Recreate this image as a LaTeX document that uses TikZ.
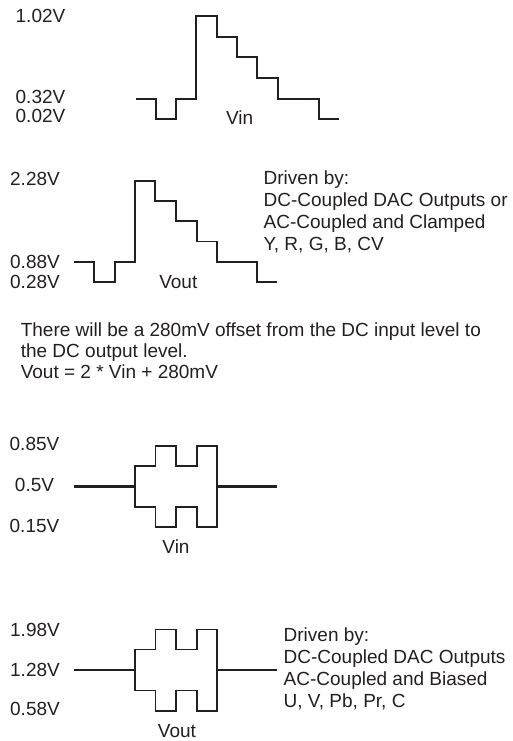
\documentclass[tikz,border=0pt]{standalone}
\usepackage{fontspec}
\setmainfont{Liberation Sans}
\usepackage{tikz}
\usetikzlibrary{positioning}
\definecolor{ink}{RGB}{35,31,32}
\tikzset{
    wave/.style={
        draw=ink,
        line width=1.8bp,
        line join=miter
    },
    dcline/.style={
        draw=ink,
        line width=2.8bp
    },
    lvl/.style={
        anchor=base,
        inner sep=0pt,
        text=ink,
        font=\fontsize{19bp}{22bp}\selectfont
    },
    note/.style={
        anchor=north west,
        align=left,
        inner sep=0pt,
        text=ink,
        font=\fontsize{19bp}{22bp}\selectfont
    }
}

\begin{document}
\begin{tikzpicture}[x=1bp, y=-1bp]
    \useasboundingbox (0,0) rectangle (513,741);

    % Vin staircase (DC coupled)
    \node[lvl] (vinhi)  at (40.5,22.7)  {1.02V};
    \node[lvl] (vinmid) at (40.5,103.5) {0.32V};
    \node[lvl] (vinlo)  at (40.5,122)   {0.02V};
    \draw[wave] (136,98.7) -- (155.7,98.7) -- (155.7,118.7) -- (176,118.7)
        -- (176,98.7) -- (196,98.7) -- (196,16) -- (217.3,16)
        -- (217.3,36.7) -- (237.3,36.7) -- (237.3,57.3) -- (257.3,57.3)
        -- (257.3,78) -- (278.3,78) -- (278.3,98.7) -- (319,98.7)
        -- (319,118.7) -- (339,118.7);
    \node[lvl] (vinname) at (239.7,124) {Vin};

    % Vout staircase (DC coupled)
    \node[lvl] (vouthi)  at (35,185)   {2.28V};
    \node[lvl] (voutmid) at (35,268.5) {0.88V};
    \node[lvl] (voutlo)  at (35,288.5) {0.28V};
    \draw[wave] (74.3,261.7) -- (94.3,261.7) -- (94.3,282.3) -- (115,282.3)
        -- (115,261.7) -- (135,261.7) -- (135,180.7) -- (155,180.7)
        -- (155,200.9) -- (175.7,200.9) -- (175.7,221.2) -- (196.7,221.2)
        -- (196.7,241.4) -- (217.3,241.4) -- (217.3,261.7) -- (257.3,261.7)
        -- (257.3,282.3) -- (277.3,282.3);
    \node[lvl] (voutname) at (178.3,288.5) {Vout};
    \node[note] (dcsrc) at (263.5,170.4)
        {Driven by:\\DC-Coupled DAC Outputs or\\AC-Coupled and Clamped\\Y, R, G, B, CV};

    % Offset remark
    \node[note, font=\fontsize{19bp}{21bp}\selectfont] (offset) at (20.6,322.8)
        {There will be a 280mV offset from the DC input level to\\the DC output level.\\Vout = 2 * Vin + 280mV};

    % Biased bursts
    \node[lvl] (binhi)  at (34.5,450)  {0.85V};
    \node[lvl] (binmid) at (34.5,491.8) {0.5V};
    \node[lvl] (binlo)  at (34.5,532.8) {0.15V};
    \node[lvl] (binname) at (176,553.5) {Vin};

    \node[lvl] (bouthi)  at (35,636)   {1.98V};
    \node[lvl] (boutmid) at (35,676)   {1.28V};
    \node[lvl] (boutlo)  at (35,715)   {0.58V};
    \node[lvl] (boutname) at (177,737.5) {Vout};
    \node[note] (acsrc) at (283.5,627.9)
        {Driven by:\\DC-Coupled DAC Outputs\\AC-Coupled and Biased\\U, V, Pb, Pr, C};

    \foreach \yc/\lw in {486.7/2.8bp, 670/1.8bp} {
        \draw[dcline, line width=\lw] (74,\yc) -- (135,\yc);
        \draw[dcline, line width=\lw] (216.7,\yc) -- (277.3,\yc);
        \draw[wave] (135,{\yc-20.5}) -- (155.5,{\yc-20.5}) -- (155.5,{\yc-40.6})
            -- (176.3,{\yc-40.6}) -- (176.3,{\yc-20.5}) -- (196.7,{\yc-20.5})
            -- (196.7,{\yc-40.6}) -- (216.7,{\yc-40.6}) -- (216.7,{\yc+40.6})
            -- (196.7,{\yc+40.6}) -- (196.7,{\yc+20.5}) -- (176.3,{\yc+20.5})
            -- (176.3,{\yc+40.6}) -- (155.5,{\yc+40.6}) -- (155.5,{\yc+20.5})
            -- (135,{\yc+20.5}) -- cycle;
    }
\end{tikzpicture}
\end{document}
